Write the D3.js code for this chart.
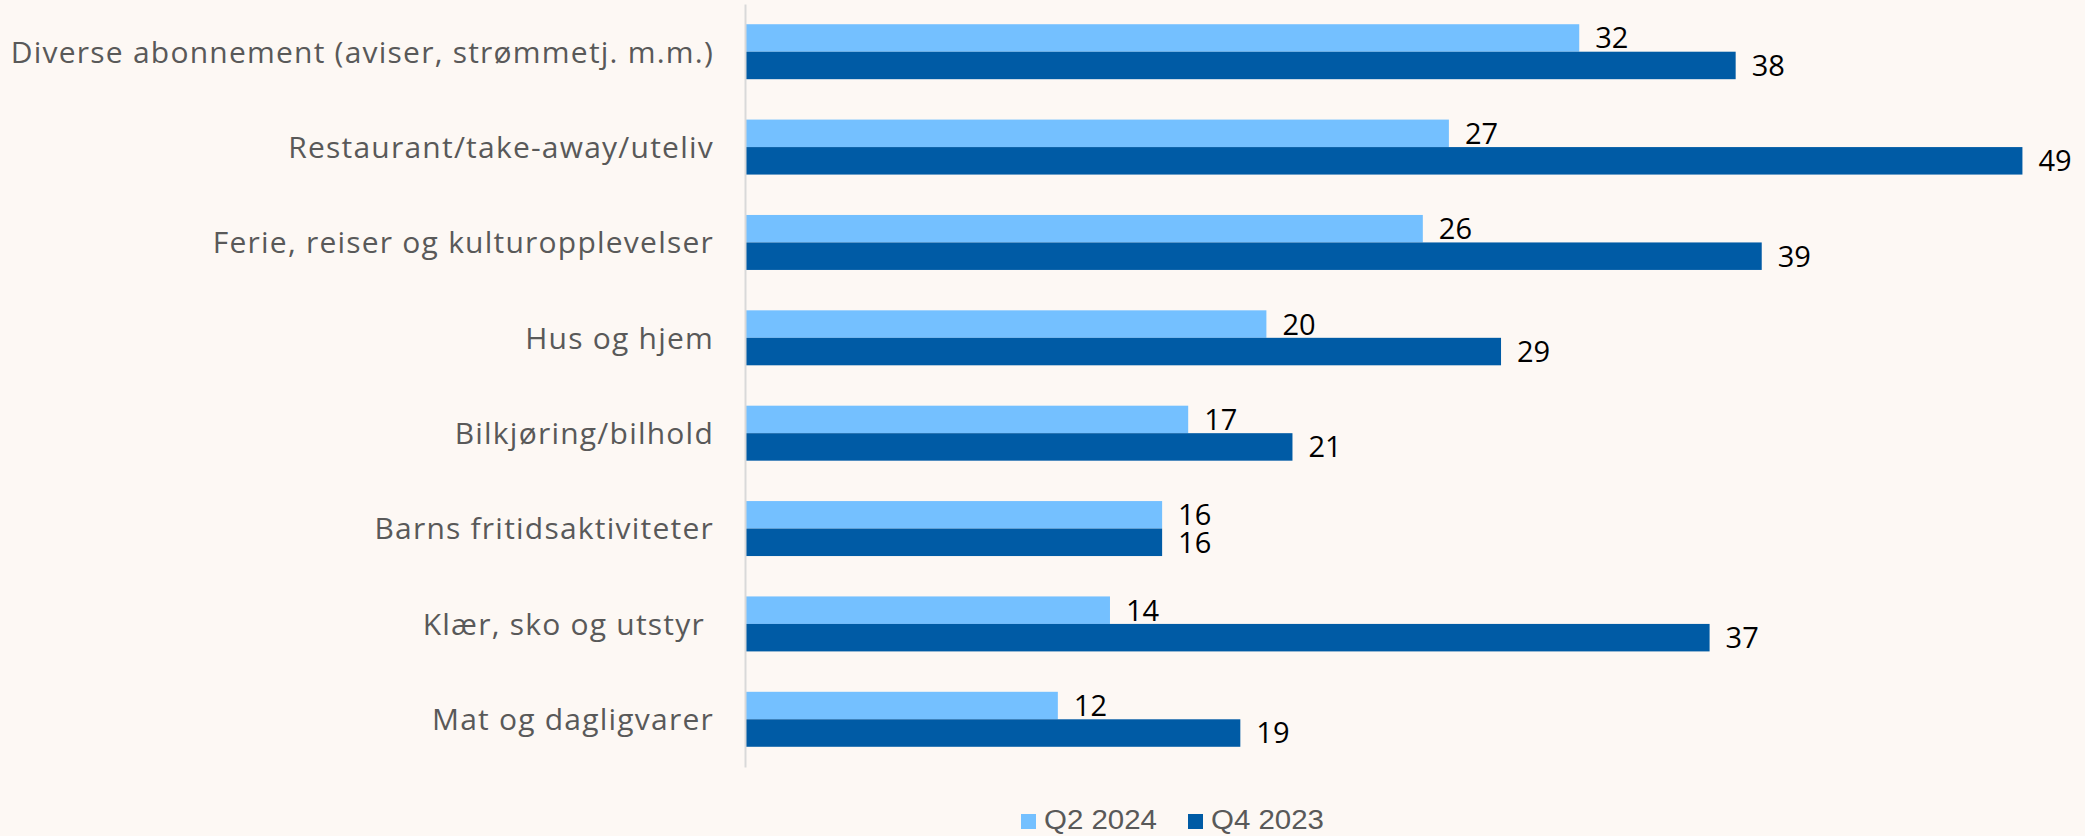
<!DOCTYPE html>
<html><head><meta charset="utf-8">
<script src="https://cdn.jsdelivr.net/npm/d3@7"></script>
<style>
html,body{margin:0;padding:0;background:#fdf8f4;}
svg{display:block;}
text{white-space:pre;}
</style></head>
<body>
<script>
const categories = [
  "Diverse abonnement (aviser, strømmetj. m.m.)",
  "Restaurant/take-away/uteliv",
  "Ferie, reiser og kulturopplevelser",
  "Hus og hjem",
  "Bilkjøring/bilhold",
  "Barns fritidsaktiviteter",
  "Klær, sko og utstyr ",
  "Mat og dagligvarer"
];
const seriesNames = ["Q2 2024", "Q4 2023"];
const q2_2024 = [32, 27, 26, 20, 17, 16, 14, 12];
const q4_2023 = [38, 49, 39, 29, 21, 16, 37, 19];
const seriesColors = ["#74c0ff", "#005ba5"];

const W = 2085, H = 836;
const svg = d3.select("body").append("svg").attr("width", W).attr("height", H);
svg.append("rect").attr("width", W).attr("height", H).attr("fill", "#fdf8f4");

const x0 = 745;
const x = d3.scaleLinear().domain([0, 49]).range([x0, x0 + 49 * 26.07]);
const y = d3.scaleBand().domain(categories).range([4, 767]).paddingInner(0.4235).paddingOuter(0.212);
const sub = d3.scaleBand().domain(seriesNames).range([0, y.bandwidth()]);

const data = categories.map((c, i) => ({cat: c, vals: [
  {s: seriesNames[0], v: q2_2024[i], col: seriesColors[0]},
  {s: seriesNames[1], v: q4_2023[i], col: seriesColors[1]}
]}));

const g = svg.append("g");
const groups = g.selectAll("g.grp").data(data).join("g")
  .attr("transform", d => `translate(0,${y(d.cat)})`);

groups.selectAll("rect").data(d => d.vals).join("rect")
  .attr("x", x(0))
  .attr("y", d => sub(d.s))
  .attr("width", d => x(d.v) - x(0))
  .attr("height", sub.bandwidth())
  .attr("fill", d => d.col);

groups.selectAll("text.val").data(d => d.vals).join("text")
  .attr("class", "val")
  .attr("x", d => x(d.v) + 16)
  .attr("y", d => sub(d.s) + sub.bandwidth() / 2)
  .attr("dy", "0.36em")
  .attr("font-family", "'Open Sans', sans-serif")
  .attr("font-size", 29)
  .attr("fill", "#000")
  .text(d => d.v);

// axis (category labels)
const yAxis = d3.axisLeft(y).tickSize(0).tickPadding(31);
const ax = svg.append("g").attr("transform", `translate(${x0},0)`).call(yAxis);
ax.select(".domain").attr("stroke", "#d9d9d9").attr("stroke-width", 2);
const ticksText = ax.selectAll(".tick text")
  .attr("font-family", "'Open Sans', sans-serif")
  .attr("font-size", 30)
  .attr("fill", "#595959")
  .attr("dy", "0.36em");
// widen letter spacing so the longest label spans like the reference (~702px)
const first = ticksText.filter((d, i) => i === 0).node();
const w0 = first.getComputedTextLength();
const ls = Math.max(0, (702 - w0) / (categories[0].length - 1));
ticksText.attr("letter-spacing", ls + "px");

// legend
const legendItems = [
  {name: seriesNames[0], col: seriesColors[0], x: 1021},
  {name: seriesNames[1], col: seriesColors[1], x: 1188}
];
const lg = svg.append("g");
legendItems.forEach(it => {
  lg.append("rect").attr("x", it.x).attr("y", 814).attr("width", 15).attr("height", 15).attr("fill", it.col);
  lg.append("text").attr("x", it.x + 23).attr("y", 829)
    .attr("font-family", "'Liberation Sans', Arial, sans-serif")
    .attr("font-size", 27).attr("fill", "#595959")
    .attr("textLength", 113).attr("lengthAdjust", "spacingAndGlyphs")
    .text(it.name);
});
</script>
</body></html>
